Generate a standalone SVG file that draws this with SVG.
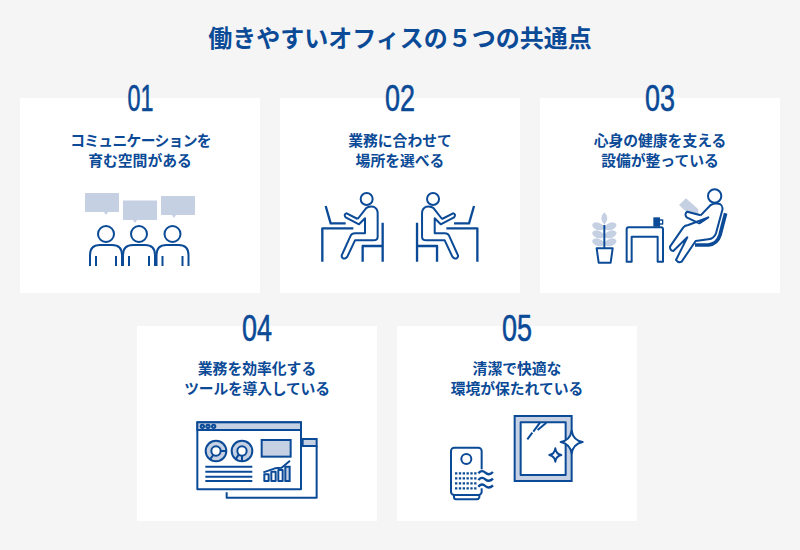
<svg xmlns="http://www.w3.org/2000/svg" width="800" height="550" viewBox="0 0 800 550">
<style>
text{font-family:"Noto Sans CJK JP","Noto Sans",sans-serif;fill:#0b4a96;text-anchor:middle}
.t{font-size:24px;font-weight:700}
.c{font-size:14.800px;font-weight:700}
.n{font-family:"Liberation Sans",sans-serif;font-size:37px;font-weight:400;stroke:#0b4a96;stroke-width:.6px}
.card{fill:#fff}
.s{fill:none;stroke:#0b4a96;stroke-width:2px}
.z{fill:none;stroke:#0b4a96;stroke-width:6px;stroke-linejoin:round}
.w{fill:#fff;stroke:#0b4a96;stroke-width:6px;stroke-linejoin:round}
.l{fill:#c5d0e3}
.lz{fill:#c5d0e3;stroke:#0b4a96;stroke-width:6px}
.b{fill:#0b4a96}
</style>
<defs>
<g id="sitter">
<circle cx="170" cy="57" r="18" class="z"/>
<path class="z" d="M143 117L168 85Q175 78 190 80Q203 85 203 100V170Q203 181 190 181H135L112 230Q105 240 97 233Q93 228 97 222L122 167Q125 160 135 160H165V115L147 133L107 112Q100 103 110 100L143 117"/>
<path class="z" style="stroke-width:7px" d="M37 245V145H130M47 78L62 130H107M218 128V245M158 245V198H218"/>
</g>
<g id="person">
<circle cx="0" cy="-32" r="8" class="s"/>
<path class="s" d="M-16 0V-11Q-16 -21 -6 -21H6Q16 -21 16 -11V0M-10 -10V0M10 -10V0"/>
</g>
</defs>
<rect width="800" height="550" fill="#f5f5f5"/>
<text class="t" x="400" y="47">働きやすいオフィスの&#xFF15;つの共通点</text>

<g id="card1">
<rect class="card" x="20" y="98" width="240" height="195"/>
<text class="n" x="140.500" y="111" textLength="26" lengthAdjust="spacingAndGlyphs">01</text>
<text class="c" x="140.500" y="146" style="letter-spacing:-.7px">コミュニケーションを</text>
<text class="c" x="140" y="166">育む空間がある</text>
<path class="l" d="M85 193H119V212H108L106 215L104 212H85Z"/>
<path class="l" d="M123 200.500H157V220H137L135 223L133 220H123Z"/>
<path class="l" d="M161 196H195V215H176L174 218L172 215H161Z"/>
<use href="#person" x="106" y="266"/>
<use href="#person" x="139" y="266"/>
<use href="#person" x="172.500" y="266"/>
</g>

<g id="card2">
<rect class="card" x="280" y="98" width="240" height="195"/>
<text class="n" x="400" y="111" textLength="30" lengthAdjust="spacingAndGlyphs">02</text>
<text class="c" x="400" y="146">業務に合わせて</text>
<text class="c" x="400" y="166">場所を選べる</text>
<g transform="translate(310 180) scale(.3333)"><use href="#sitter"/></g>
<g transform="translate(489.700 180) scale(-.3333 .3333)"><use href="#sitter"/></g>
</g>

<g id="card3">
<rect class="card" x="540" y="98" width="240" height="195"/>
<text class="n" x="660" y="111" textLength="30" lengthAdjust="spacingAndGlyphs">03</text>
<text class="c" x="660" y="146">心身の健康を支える</text>
<text class="c" x="660" y="166">設備が整っている</text>
<g transform="translate(580 180) scale(.3333)">
<path class="l" d="M73 97Q92 115 73 134Q54 115 73 97Z"/>
<g class="l">
<ellipse cx="54" cy="139" rx="18" ry="11" transform="rotate(20 54 139)"/>
<ellipse cx="92" cy="139" rx="18" ry="11" transform="rotate(-20 92 139)"/>
<ellipse cx="54" cy="163" rx="18" ry="11" transform="rotate(20 54 163)"/>
<ellipse cx="92" cy="163" rx="18" ry="11" transform="rotate(-20 92 163)"/>
<ellipse cx="54" cy="187" rx="18" ry="11" transform="rotate(20 54 187)"/>
<ellipse cx="92" cy="187" rx="18" ry="11" transform="rotate(-20 92 187)"/>
</g>
<path class="z" d="M73 135V205M50 205H98L92 248H56Z"/>
<path class="z" d="M140 245V148Q140 142 146 142H243Q249 142 249 148V245H233V170H155V245Z"/>
<path class="b" d="M220 112H240V140H220Z"/>
<path class="z" d="M240 120H248V132H238" style="stroke-width:4px"/>
<path class="l" d="M297 75L318 55L355 88V104L322 98Z"/>
<circle cx="404" cy="48" r="20" class="z"/>
<path class="z" d="M362 106L392 75Q405 68 420 72Q430 78 427 90L408 160Q402 176 385 178L347 183L305 245Q295 250 288 240L322 172L280 213Q270 212 270 200L310 142Q315 136 325 135L385 112L358 130L320 112Q312 102 322 95L362 106"/>
<path fill="none" stroke="#0b4a96" stroke-width="11" stroke-linejoin="round" d="M437 100L420 165Q412 192 385 195H345"/>
</g>
</g>

<g id="card4">
<rect class="card" x="137" y="326" width="240" height="195"/>
<text class="n" x="257" y="341" textLength="30" lengthAdjust="spacingAndGlyphs">04</text>
<text class="c" x="257" y="373.500">業務を効率化する</text>
<text class="c" x="257" y="394" style="letter-spacing:-.2px">ツールを導入している</text>
<g transform="translate(190 415) scale(.3333)">
<path class="lz" d="M338 72H380V93H338Z"/>
<path class="z" d="M380 93V248H110V232"/>
<rect class="w" x="22" y="22" width="311" height="201"/>
<rect class="lz" x="22" y="22" width="311" height="23"/>
<circle class="z" cx="37" cy="34" r="5"/><circle class="z" cx="54" cy="34" r="5"/><circle class="z" cx="71" cy="34" r="5"/>
<circle class="lz" cx="78" cy="108" r="31"/><circle class="w" cx="78" cy="108" r="14"/><path class="z" d="M92 108H108M70 120L60 133"/>
<circle class="lz" cx="156" cy="108" r="31"/><circle class="w" cx="156" cy="108" r="14"/><path class="z" d="M156 122V139M146 119L137 133"/>
<rect class="lz" x="215" y="75" width="87" height="50"/>
<path class="z" d="M46 155H187M46 170H187M46 185H187M46 198H187"/>
<path class="w" d="M223 178H236V198H223ZM244 170H257V198H244ZM265 165H278V198H265Z"/>
<path class="lz" d="M286 155H299V198H286Z"/>
<path class="z" d="M220 172L255 160L275 158L300 137"/>
</g>
</g>

<g id="card5">
<rect class="card" x="397" y="326" width="240" height="195"/>
<text class="n" x="517" y="341" textLength="30" lengthAdjust="spacingAndGlyphs">05</text>
<text class="c" x="517" y="373.500">清潔で快適な</text>
<text class="c" x="517" y="394">環境が保たれている</text>
<g transform="translate(445 410) scale(.3333)">
<rect class="lz" x="209" y="18" width="171" height="195"/>
<rect class="w" x="227" y="37" width="135" height="158"/>
<path class="z" d="M247 88L262 68M265 65L285 38M278 60L304 38"/>
<path class="w" d="M380 62Q385 92 413 96Q385 102 380 130Q375 102 347 96Q375 92 380 62Z"/>
<path class="z" d="M331 115Q333 132 349 135Q333 138 331 155Q329 138 313 135Q329 132 331 115Z"/>
<path class="z" d="M27 255V262Q27 268 33 268H95Q101 268 103 262V255"/>
<rect class="w" x="18" y="113" width="92" height="142" rx="10"/>
<circle class="z" cx="64" cy="147" r="15"/>
<path stroke="#0b4a96" stroke-width="7" stroke-dasharray="7 4.500" fill="none" d="M30 190H95M30 205H95M30 220H95M30 235H95"/>
<path fill="#fff" d="M100 178H146V235H100Z"/>
<path class="z" style="stroke-width:7px" d="M100 190Q110 178 121 188T144 186M100 210Q110 198 121 208T144 206M100 230Q110 218 121 228T144 226"/>
</g>
</g>
</svg>
